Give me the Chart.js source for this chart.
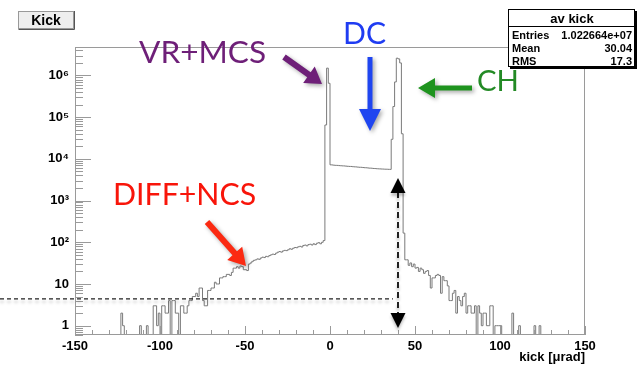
<!DOCTYPE html>
<html>
<head>
<meta charset="utf-8">
<title>av kick</title>
<script src="https://cdn.jsdelivr.net/npm/chart.js@4.4.1/dist/chart.umd.min.js"></script>
<style>
  html, body { margin: 0; padding: 0; background: #fff; }
  canvas { display: block; }
</style>
</head>
<body>
<canvas id="kick" width="638" height="369"></canvas>
<script>
// "av kick" histogram, 1 urad bins from -150 to +150 (entries per bin)
const binStart = -150;
const binWidth = 1;

// -150 .. -4 : diffractive / nuclear scattering tail
const tailLeft = [
  0, 0, 0, 0, 0, 0, 0, 0, 0, 0,
  0, 0, 0, 0, 0, 0, 0, 0, 0, 0,
  0, 0, 0, 0, 0, 0, 0, 2, 1, 0,
  0, 0, 0, 0, 0, 0, 0, 0, 1, 0,
  0, 0, 1, 0, 0, 0, 3, 3, 1, 2,
  0, 3, 3, 2, 2, 4, 0, 4, 4, 2,
  2, 0, 3, 3, 2, 2, 3, 4, 4, 5,
  5, 6, 5, 8, 8, 4, 3, 3, 7, 7,
  8, 8, 11, 10, 10, 14, 14, 15, 15, 17,
  17, 16, 19, 24, 24, 26, 24, 27, 26, 22,
  22, 21, 30, 32, 35, 37, 38, 40, 39, 42,
  44, 43, 46, 45, 48, 50, 52, 51, 55, 58,
  60, 58, 62, 64, 63, 66, 70, 68, 72, 75,
  74, 78, 80, 77, 84, 86, 82, 88, 90, 86,
  92, 88, 95, 98, 92, 100, 110
];
// -3 .. -1 : volume reflection peak
const vrPeak = [65000, 1500000, 650000];
// 0 .. 35 : dechanneling plateau
const dcFloor = [
  7200, 7150, 7050, 7000, 6980, 6900, 6850, 6800, 6780, 6700,
  6650, 6600, 6580, 6500, 6450, 6420, 6350, 6300, 6280, 6200,
  6150, 6120, 6050, 6000, 5980, 5900, 5870, 5820, 5780, 5750,
  5720, 5700, 5660, 5650, 5620, 5600
];
// 36 .. 43 : channeling peak
const chPeak = [29500, 180000, 700000, 2600000, 2500000, 2000000, 40000, 166];
// 44 .. 149 : tail on the right
const tailRight = [
  38, 38, 28, 32, 26, 30, 24, 25, 20, 24,
  22, 18, 20, 21, 16, 8, 14, 14, 16, 17,
  16, 6, 15, 12, 12, 9, 4, 4, 6, 7,
  2, 5, 4, 3, 5, 6, 2, 3, 3, 2,
  2, 3, 0, 3, 2, 1, 2, 2, 1, 1,
  3, 3, 0, 1, 1, 1, 1, 0, 0, 0,
  0, 0, 0, 2, 0, 0, 0, 1, 0, 0,
  0, 0, 0, 0, 0, 0, 1, 0, 0, 1,
  0, 0, 0, 0, 0, 0, 0, 0, 0, 0,
  0, 0, 0, 0, 0, 0, 0, 0, 0, 0,
  0, 0, 0, 0, 0, 0
];

const xTicks = [-150, -100, -50, 0, 50, 100, 150];
const yTickValues = [1, 10, 100, 1000, 10000, 100000, 1000000];
const yTickLabels = ['1', '10', '10²', '10³', '10⁴', '10⁵', '10⁶'];
const statsTitle = 'av kick';
const statsRows = [['Entries', '1.022664e+07'], ['Mean', '30.04'], ['RMS', '17.3']];

const counts = [].concat(tailLeft, vrPeak, dcFloor, chPeak, tailRight);
// empty bins drop below the frame, as ROOT does on a log axis
const points = counts.map((c, i) => ({ x: binStart + i * binWidth, y: c > 0 ? c : 0.1 }));
points.push({ x: binStart + counts.length * binWidth, y: points[points.length - 1].y });

const rootFont = "'Liberation Sans', Arial, Helvetica, sans-serif";
const noteFont = "Lato, 'Open Sans', sans-serif";

// frame and inward ticks, ROOT style
const rootFrame = {
  id: 'rootFrame',
  afterDatasetsDraw(chart) {
    const { ctx, chartArea: a, scales: { x, y } } = chart;
    ctx.save();
    ctx.strokeStyle = '#9a9a9a';
    ctx.lineWidth = 1;
    ctx.strokeRect(Math.round(a.left) + 0.5, Math.round(a.top) + 0.5, Math.round(a.width) - 1, Math.round(a.height) - 1);
    ctx.beginPath();
    for (let d = -1; d <= 6; d++) {
      for (let m = 1; m <= 9; m++) {
        const v = m * Math.pow(10, d);
        if (v < y.min || v > y.max) continue;
        const py = Math.round(y.getPixelForValue(v)) + 0.5;
        ctx.moveTo(a.left, py);
        ctx.lineTo(a.left + (m === 1 ? 16 : 8), py);
      }
    }
    for (let v = -150; v <= 150; v += 10) {
      const px = Math.round(x.getPixelForValue(v)) + 0.5;
      ctx.moveTo(px, a.bottom);
      ctx.lineTo(px, a.bottom - (v % 50 === 0 ? 9 : 5));
    }
    ctx.stroke();
    ctx.restore();
  }
};

function arrow(ctx, x1, y1, x2, y2, color, shaft, headW, headL) {
  const ang = Math.atan2(y2 - y1, x2 - x1);
  const len = Math.hypot(x2 - x1, y2 - y1);
  ctx.save();
  ctx.shadowColor = 'rgba(0,0,0,0.35)';
  ctx.shadowBlur = 4;
  ctx.shadowOffsetX = 2;
  ctx.shadowOffsetY = 2;
  ctx.translate(x1, y1);
  ctx.rotate(ang);
  ctx.fillStyle = color;
  ctx.beginPath();
  ctx.moveTo(0, -shaft / 2);
  ctx.lineTo(len - headL, -shaft / 2);
  ctx.lineTo(len - headL, -headW / 2);
  ctx.lineTo(len, 0);
  ctx.lineTo(len - headL, headW / 2);
  ctx.lineTo(len - headL, shaft / 2);
  ctx.lineTo(0, shaft / 2);
  ctx.closePath();
  ctx.fill();
  ctx.restore();
}

function fitText(ctx, text, left, base, width, color) {
  ctx.font = '40px ' + noteFont;
  const size = 40 * width / ctx.measureText(text).width;
  ctx.font = size.toFixed(1) + 'px ' + noteFont;
  ctx.fillStyle = color;
  ctx.textAlign = 'left';
  ctx.textBaseline = 'alphabetic';
  ctx.fillText(text, left, base);
}

const notes = [
  { text: 'VR+MCS', x: 139, base: 63, w: 127, color: '#6e1f78' },
  { text: 'DC', x: 343, base: 44, w: 43, color: '#1f3cf2' },
  { text: 'CH', x: 477, base: 91, w: 42, color: '#238a25' },
  { text: 'DIFF+NCS', x: 113, base: 205, w: 143, color: '#f8150a' }
];

const overlay = {
  id: 'overlay',
  afterDraw(chart) {
    const { ctx, scales: { x, y } } = chart;
    ctx.save();

    // title box
    ctx.fillStyle = '#eeeeee';
    ctx.fillRect(18, 11, 56, 18);
    ctx.strokeStyle = '#ffffff';
    ctx.beginPath();
    ctx.moveTo(18.5, 28.5); ctx.lineTo(18.5, 11.5); ctx.lineTo(73.5, 11.5);
    ctx.stroke();
    ctx.strokeStyle = '#555';
    ctx.beginPath();
    ctx.moveTo(18.5, 29.5); ctx.lineTo(74.5, 29.5); ctx.lineTo(74.5, 11);
    ctx.stroke();
    ctx.strokeStyle = '#999';
    ctx.strokeRect(18.5, 11.5, 55, 17);
    ctx.fillStyle = '#000';
    ctx.font = 'bold 14px ' + rootFont;
    ctx.textAlign = 'center';
    ctx.textBaseline = 'middle';
    ctx.fillText('Kick', 46, 21);

    // stats box
    ctx.fillStyle = '#000';
    ctx.fillRect(510, 67, 127, 2);
    ctx.fillRect(635, 11, 2, 58);
    ctx.fillStyle = '#fff';
    ctx.fillRect(508, 9, 127, 58);
    ctx.strokeStyle = '#000';
    ctx.lineWidth = 1;
    ctx.strokeRect(508.5, 9.5, 126, 57);
    ctx.beginPath();
    ctx.moveTo(508, 26.5); ctx.lineTo(635, 26.5);
    ctx.stroke();
    ctx.fillStyle = '#000';
    ctx.font = 'bold 13px ' + rootFont;
    ctx.textAlign = 'center';
    ctx.textBaseline = 'alphabetic';
    ctx.fillText(statsTitle, 572, 23);
    ctx.font = 'bold 11px ' + rootFont;
    statsRows.forEach((r, i) => {
      const by = 38.5 + i * 13;
      ctx.textAlign = 'left';
      ctx.fillText(r[0], 512, by);
      ctx.textAlign = 'right';
      ctx.fillText(r[1], 632, by);
    });

    // measurement lines
    const yLevel = y.getPixelForValue(4.4);
    const xArrow = x.getPixelForValue(40);
    ctx.save();
    ctx.shadowColor = 'rgba(0,0,0,0.25)';
    ctx.shadowBlur = 3;
    ctx.shadowOffsetY = 3;
    ctx.strokeStyle = '#222';
    ctx.lineWidth = 1.3;
    ctx.setLineDash([4, 3]);
    ctx.beginPath();
    ctx.moveTo(0, yLevel);
    ctx.lineTo(x.getPixelForValue(37), yLevel);
    ctx.stroke();

    const yTop = y.getPixelForValue(3500);
    const yBot = y.getPixelForValue(0.88);
    ctx.lineWidth = 2;
    ctx.setLineDash([6, 4]);
    ctx.beginPath();
    ctx.moveTo(xArrow, yTop + 14);
    ctx.lineTo(xArrow, yBot - 14);
    ctx.stroke();
    ctx.setLineDash([]);
    ctx.fillStyle = '#000';
    ctx.beginPath();
    ctx.moveTo(xArrow, yTop); ctx.lineTo(xArrow + 7.5, yTop + 15); ctx.lineTo(xArrow - 7.5, yTop + 15);
    ctx.closePath();
    ctx.fill();
    ctx.beginPath();
    ctx.moveTo(xArrow, yBot); ctx.lineTo(xArrow + 7.5, yBot - 15); ctx.lineTo(xArrow - 7.5, yBot - 15);
    ctx.closePath();
    ctx.fill();
    ctx.restore();

    // labels and arrows
    notes.forEach(n => fitText(ctx, n.text, n.x, n.base, n.w, n.color));
    arrow(ctx, 284, 57, 322, 84, '#6e1f78', 6, 20, 16);
    arrow(ctx, 370, 57, 370, 131, '#1f45f0', 5, 22, 22);
    arrow(ctx, 472, 88, 418, 88, '#1e931e', 5, 20, 17);
    arrow(ctx, 207, 222, 246, 266, '#fb2a12', 6, 20, 17);

    ctx.restore();
  }
};

new Chart(document.getElementById('kick'), {
  type: 'line',
  data: {
    datasets: [{
      data: points,
      stepped: 'before',
      borderColor: '#7a7a7a',
      borderWidth: 1,
      pointRadius: 0,
      fill: false
    }]
  },
  options: {
    responsive: false,
    animation: false,
    devicePixelRatio: 1,
    layout: { padding: { left: 0, right: 53, top: 47, bottom: 0 } },
    plugins: { legend: { display: false }, tooltip: { enabled: false } },
    scales: {
      x: {
        type: 'linear',
        min: -150,
        max: 150,
        afterBuildTicks: s => { s.ticks = xTicks.map(v => ({ value: v })); },
        afterFit: s => { s.height = 34; },
        grid: { display: false, drawTicks: false },
        border: { display: false },
        ticks: {
          padding: 4,
          color: '#000',
          maxRotation: 0,
          autoSkip: false,
          font: { family: rootFont, size: 13, weight: 'bold' },
          callback: v => String(v)
        },
        title: {
          display: true,
          text: 'kick [μrad]',
          align: 'end',
          color: '#000',
          padding: { top: 0, bottom: 4 },
          font: { family: rootFont, size: 13, weight: 'bold' }
        }
      },
      y: {
        type: 'logarithmic',
        min: 0.598,
        max: 4.82e6,
        afterBuildTicks: s => { s.ticks = yTickValues.map(v => ({ value: v })); },
        afterFit: s => { s.width = 75; },
        grid: { display: false, drawTicks: false },
        border: { display: false },
        ticks: {
          padding: 6,
          color: '#000',
          autoSkip: false,
          font: { family: rootFont, size: 13, weight: 'bold' },
          callback: v => yTickLabels[yTickValues.indexOf(v)]
        }
      }
    }
  },
  plugins: [rootFrame, overlay]
});
</script>
</body>
</html>
